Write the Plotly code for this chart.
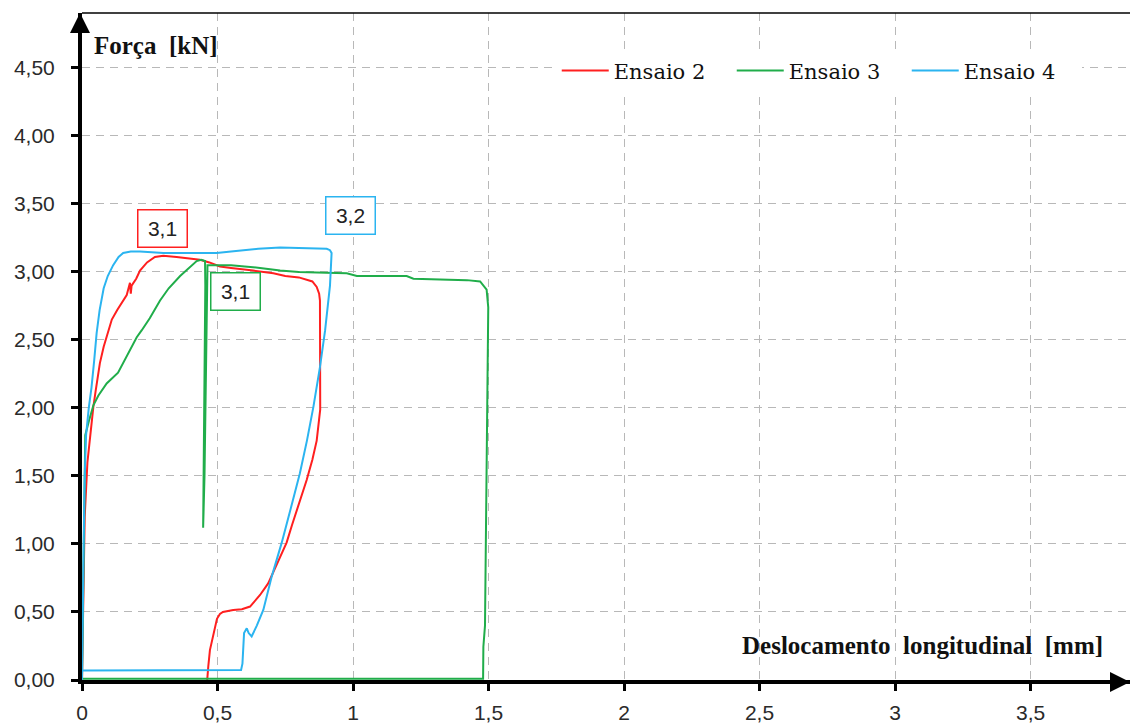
import plotly.graph_objects as go

# Ensaio 2
x_e2 = [0.0, 0.005, 0.01, 0.02, 0.03, 0.036, 0.042, 0.05, 0.066, 0.08, 0.091, 0.097, 0.11, 0.13,
        0.15, 0.165, 0.177, 0.18, 0.183, 0.2, 0.214, 0.24, 0.269, 0.30, 0.349, 0.40, 0.435, 0.47,
        0.509, 0.55, 0.60, 0.632, 0.706, 0.75, 0.80, 0.829, 0.85, 0.866, 0.875, 0.878, 0.879,
        0.88, 0.879, 0.866, 0.85, 0.829, 0.80, 0.775, 0.755, 0.72, 0.687, 0.657, 0.635, 0.62,
        0.59, 0.558, 0.52, 0.509, 0.498, 0.491, 0.48, 0.472, 0.466, 0.462]
y_e2 = [0.0, 0.6, 1.2, 1.6, 1.8, 1.88, 2.01, 2.12, 2.33, 2.45, 2.52, 2.57, 2.65, 2.72,
        2.78, 2.83, 2.92, 2.84, 2.90, 2.95, 3.01, 3.07, 3.11, 3.12, 3.11, 3.10, 3.09, 3.07,
        3.04, 3.03, 3.02, 3.01, 2.99, 2.97, 2.96, 2.94, 2.93, 2.89, 2.84, 2.79, 2.52,
        2.33, 1.99, 1.76, 1.62, 1.47, 1.30, 1.14, 1.01, 0.85, 0.71, 0.625, 0.57, 0.54,
        0.52, 0.515, 0.50, 0.485, 0.45, 0.39, 0.30, 0.22, 0.10, 0.0]

# Ensaio 3
x_e3 = [0.0, 0.003, 0.005, 0.008, 0.012, 0.025, 0.042, 0.06, 0.091, 0.133, 0.17, 0.202, 0.22,
        0.25, 0.288, 0.32, 0.362, 0.40, 0.423, 0.44, 0.454, 0.455, 0.452, 0.449, 0.447,
        0.452, 0.456, 0.459, 0.463, 0.485, 0.55, 0.60, 0.657, 0.731, 0.80, 0.90, 0.977,
        1.014, 1.10, 1.198, 1.223, 1.30, 1.42, 1.469, 1.485, 1.493, 1.499, 1.495, 1.49,
        1.487, 1.481, 1.48, 0.0]
y_e3 = [0.0, 0.5, 1.0, 1.5, 1.8, 1.9, 2.02, 2.09, 2.18, 2.26, 2.40, 2.52, 2.57,
        2.66, 2.79, 2.88, 2.97, 3.04, 3.08, 3.09, 3.08, 2.9, 2.4, 1.8, 1.12,
        1.5, 2.0, 2.6, 3.05, 3.05, 3.05, 3.04, 3.03, 3.01, 3.00, 2.995, 2.99,
        2.97, 2.97, 2.97, 2.95, 2.945, 2.94, 2.93, 2.89, 2.87, 2.74, 2.0, 1.0,
        0.4, 0.245, 0.01, 0.01]

# Ensaio 4
x_e4 = [0.0, 0.003, 0.006, 0.01, 0.015, 0.025, 0.035, 0.045, 0.054, 0.065, 0.08, 0.095, 0.115,
        0.135, 0.152, 0.18, 0.214, 0.30, 0.40, 0.497, 0.55, 0.594, 0.65, 0.731, 0.80, 0.903,
        0.915, 0.921, 0.915, 0.897, 0.878, 0.854, 0.83, 0.804, 0.77, 0.737, 0.70, 0.669,
        0.645, 0.626, 0.615, 0.608, 0.598, 0.596, 0.595, 0.592, 0.587, 0.30, 0.004]
y_e4 = [0.0, 0.7, 1.0, 1.5, 1.8, 2.0, 2.15, 2.35, 2.55, 2.72, 2.88, 2.97, 3.05,
        3.11, 3.14, 3.15, 3.15, 3.14, 3.14, 3.14, 3.15, 3.16, 3.17, 3.18, 3.175, 3.17,
        3.16, 3.14, 2.9, 2.57, 2.30, 2.01, 1.76, 1.52, 1.26, 1.01, 0.76, 0.515,
        0.40, 0.32, 0.345, 0.38, 0.345, 0.25, 0.196, 0.12, 0.074, 0.07, 0.07]

series_names = ["Ensaio 2", "Ensaio 3", "Ensaio 4"]
series_colors = ["#ff1f1f", "#20ad4a", "#2bb4f0"]

# Peak force labels
peak_text = ["3,1", "3,1", "3,2"]
peak_label_x = [0.297, 0.565, 0.991]
peak_label_y = [3.32, 2.86, 3.415]

x_ticks = [0, 0.5, 1, 1.5, 2, 2.5, 3, 3.5]
y_ticks = [0, 0.5, 1, 1.5, 2, 2.5, 3, 3.5, 4, 4.5]
x_max = 3.867
y_max = 4.904

fig = go.Figure()
for xs, ys, name, color in zip([x_e2, x_e3, x_e4], [y_e2, y_e3, y_e4], series_names, series_colors):
    fig.add_trace(go.Scatter(x=xs, y=ys, mode="lines", name=name,
                             line=dict(color=color, width=2)))

tick_font = dict(family="Liberation Sans", size=21, color="#2a2a2a")
grid_dash = "8px,6px"

fig.update_layout(
    width=1132, height=724,
    margin=dict(l=82, r=2, t=13, b=44, autoexpand=False),
    paper_bgcolor="white", plot_bgcolor="white",
    separators=",.",
    showlegend=True,
    legend=dict(orientation="h", x=0.453, xanchor="left", y=0.944, yanchor="top",
                bgcolor="white", font=dict(family="DejaVu Serif", size=21, color="#111"),
                entrywidth=113, entrywidthmode="pixels", itemwidth=47),
    xaxis=dict(range=[0, x_max], tickvals=x_ticks, tickformat="~g",
               showgrid=True, gridcolor="#b8b8b8", griddash=grid_dash, gridwidth=1.2,
               zeroline=False, showline=True, linecolor="black", linewidth=4,
               ticks="outside", ticklen=7, tickwidth=3, tickcolor="black",
               tickfont=tick_font, ticklabelstandoff=4),
    yaxis=dict(range=[0, y_max], tickvals=y_ticks, tickformat=".2f",
               showgrid=True, gridcolor="#b8b8b8", griddash=grid_dash, gridwidth=1.2,
               zeroline=False, showline=True, linecolor="black", linewidth=4,
               ticks="outside", ticklen=7, tickwidth=3, tickcolor="black",
               tickfont=tick_font, ticklabelstandoff=12),
)

# thin frame line along the top of the plot area
fig.add_shape(type="line", xref="paper", yref="paper", x0=0, x1=1, y0=1, y1=1,
              line=dict(color="black", width=1.5))

# arrowheads on both axes
fig.add_annotation(x=0, y=y_max, xref="x", yref="y", ax=0, ay=30, text="",
                   showarrow=True, arrowhead=2, arrowsize=1, arrowwidth=4, arrowcolor="black",
                   xshift=-2)
fig.add_annotation(x=x_max, y=0, xref="x", yref="y", ax=-30, ay=0, text="",
                   showarrow=True, arrowhead=2, arrowsize=1, arrowwidth=4, arrowcolor="black",
                   yshift=-2)

# axis titles
title_font = dict(family="Liberation Serif", size=25, color="#111", weight="bold")
fig.add_annotation(x=0, y=4.662, xref="x", yref="y", xanchor="left", yanchor="middle",
                   xshift=10, text="Força\u00a0 [kN]", showarrow=False, font=title_font)
fig.add_annotation(x=3.775, y=0.257, xref="x", yref="y", xanchor="right", yanchor="middle",
                   text="Deslocamento\u00a0 longitudinal\u00a0 [mm]", showarrow=False,
                   font=title_font)

# peak labels
for txt, lx, ly, color in zip(peak_text, peak_label_x, peak_label_y, series_colors):
    fig.add_annotation(x=lx, y=ly, xref="x", yref="y", text=txt, showarrow=False,
                       font=dict(family="Liberation Sans", size=21, color="#222"),
                       bgcolor="white", bordercolor=color, borderwidth=1.5, borderpad=1,
                       width=46, height=34)

fig.write_html("out.html")
